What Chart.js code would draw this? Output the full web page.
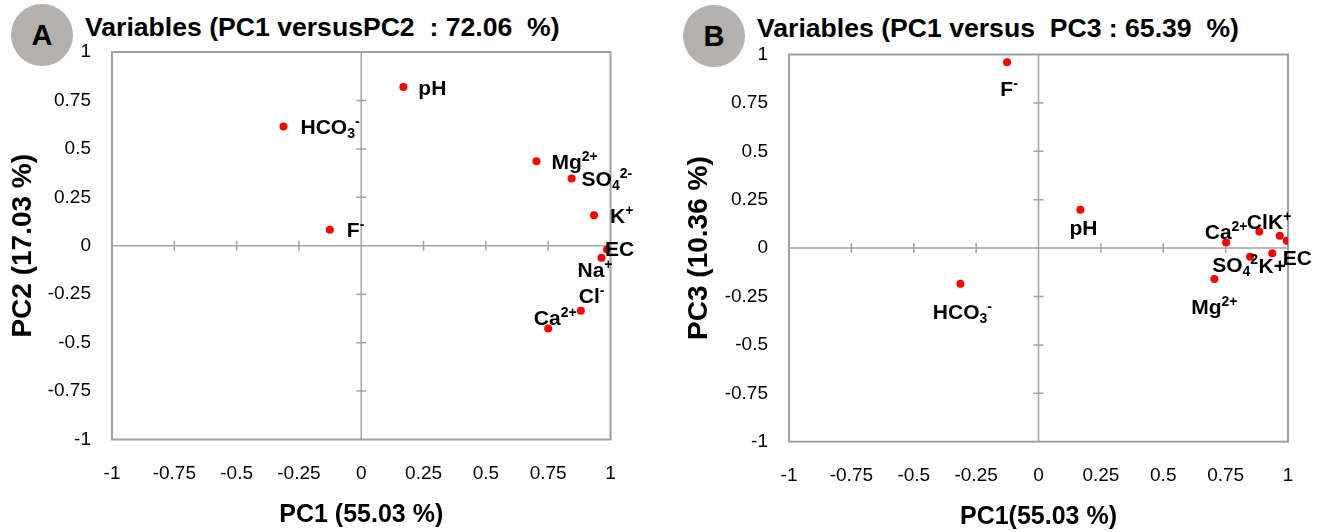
<!DOCTYPE html>
<html lang="en">
<head>
<meta charset="UTF-8">
<title>PCA variables</title>
<script src="https://cdn.jsdelivr.net/npm/chart.js"></script>
<style>
  body { margin: 0; background: #fff; width: 1317px; height: 532px; position: relative; overflow: hidden; }
  canvas { position: absolute; top: 0; }
  .badge { position: absolute; width: 62px; height: 62px; border-radius: 50%; background: #b3b0ad;
           font: bold 29px "Liberation Sans", Arial, sans-serif; color: #000; text-align: center; line-height: 62px; }
  .title { position: absolute; white-space: pre; font: bold 26.6px "Liberation Sans", Arial, sans-serif;
           line-height: 26px; color: #000; }
</style>
</head>
<body>
<div class="badge" style="left:11px; top:4px;">A</div>
<div class="title" style="left:85px; top:14px;">Variables (PC1 versusPC2  : 72.06  %)</div>
<div class="badge" style="left:683px; top:5px;">B</div>
<div class="title" style="left:757px; top:15px;">Variables (PC1 versus  PC3 : 65.39  %)</div>

<canvas id="chartA" width="660" height="532" style="left:0"></canvas>
<canvas id="chartB" width="657" height="532" style="left:660px"></canvas>

<script>
// ticks shared by both axes of both panels
const axisTicks = [-1, -0.75, -0.5, -0.25, 0, 0.25, 0.5, 0.75, 1];

// panel A : PC1 vs PC2
const labelsA = ['pH', 'HCO_3^-', 'F^-', 'Mg^{2+}', 'SO_4^{2-}', 'K^+', 'EC', 'Na^+', 'Cl^-', 'Ca^{2+}'];
const pc1A = [0.169, -0.312, -0.126, 0.703, 0.844, 0.934, 0.986, 0.964, 0.881, 0.750];
const pc2A = [0.820, 0.615, 0.082, 0.436, 0.347, 0.158, -0.019, -0.062, -0.336, -0.427];

// panel B : PC1 vs PC3
const labelsB = ['F^-', 'pH', 'HCO_3^-', 'Mg^{2+}', 'Ca^{2+}', 'Cl', 'K^+', 'EC', 'SO_4^2', 'K+'];
const pc1B = [-0.126, 0.168, -0.313, 0.705, 0.752, 0.885, 0.967, 0.995, 0.848, 0.937];
const pc3B = [0.960, 0.198, -0.184, -0.160, 0.029, 0.086, 0.064, 0.038, -0.045, -0.027];

// where each label sits relative to its point: [align, dx, dy]
const anchorsA = [
  ['left', 15, 1], ['left', 17, 0], ['left', 17, 0], ['left', 15, 0], ['left', 10, 0],
  ['left', 16, 0], ['left', -2, -1], ['right', 11, 12], ['left', -2, -15], ['center', 7, -11]
];
const anchorsB = [
  ['center', 2, 26], ['center', 3, 18], ['center', 2, 28], ['center', 0, 27], ['center', 0, -11],
  ['center', -2, -10], ['center', 0, -14], ['left', -4, 17], ['right', 8, 8], ['center', 0, 12]
];

const FONT = '"Liberation Sans", Arial, sans-serif';

function parseLabel(s) {
  const parts = [];
  let i = 0, buf = '';
  while (i < s.length) {
    const c = s[i];
    if (c === '_' || c === '^') {
      if (buf) { parts.push({ t: buf, k: 'n' }); buf = ''; }
      let txt;
      if (s[i + 1] === '{') {
        const j = s.indexOf('}', i);
        txt = s.slice(i + 2, j);
        i = j + 1;
      } else {
        txt = s[i + 1];
        i += 2;
      }
      parts.push({ t: txt, k: c === '_' ? 'sub' : 'sup' });
    } else {
      buf += c;
      i++;
    }
  }
  if (buf) parts.push({ t: buf, k: 'n' });
  return parts;
}

function drawRich(ctx, text, x, y, align) {
  const parts = parseLabel(text);
  const big = 'bold 21px ' + FONT, small = 'bold 14px ' + FONT;
  let total = 0;
  parts.forEach(p => {
    ctx.font = p.k === 'n' ? big : small;
    p.w = ctx.measureText(p.t).width;
    total += p.w;
  });
  let cx = align === 'left' ? x : align === 'right' ? x - total : x - total / 2;
  const base = y + 7.5;
  ctx.textAlign = 'left';
  ctx.textBaseline = 'alphabetic';
  parts.forEach(p => {
    ctx.font = p.k === 'n' ? big : small;
    const by = p.k === 'sup' ? base - 8 : p.k === 'sub' ? base + 4 : base;
    ctx.fillText(p.t, cx, by);
    cx += p.w;
  });
}

const framePlugin = {
  id: 'frame',
  beforeDatasetsDraw(chart) {
    const { ctx, chartArea: a, scales: { x, y } } = chart;
    const x0 = x.getPixelForValue(0), y0 = y.getPixelForValue(0);
    ctx.save();
    ctx.strokeStyle = '#a3a3a3';
    ctx.lineWidth = 1.5;
    ctx.beginPath();
    ctx.moveTo(x0, a.top); ctx.lineTo(x0, a.bottom);
    ctx.moveTo(a.left, y0); ctx.lineTo(a.right, y0);
    x.ticks.forEach(t => {
      if (t.value !== 0 && Math.abs(t.value) < 1) {
        const px = x.getPixelForValue(t.value);
        ctx.moveTo(px, y0 - 5); ctx.lineTo(px, y0 + 5);
      }
    });
    y.ticks.forEach(t => {
      if (t.value !== 0 && Math.abs(t.value) < 1) {
        const py = y.getPixelForValue(t.value);
        ctx.moveTo(x0 - 5, py); ctx.lineTo(x0 + 5, py);
      }
    });
    ctx.stroke();
    ctx.lineWidth = 2;
    ctx.strokeStyle = '#a0a0a0';
    ctx.strokeRect(a.left, a.top, a.width, a.height);
    ctx.restore();
  }
};

const labelPlugin = {
  id: 'pointLabels',
  afterDatasetsDraw(chart, args, opts) {
    const ctx = chart.ctx;
    const meta = chart.getDatasetMeta(0);
    ctx.save();
    ctx.fillStyle = '#000';
    meta.data.forEach((pt, i) => {
      const [align, dx, dy] = opts.anchors[i];
      drawRich(ctx, opts.names[i], pt.x + dx, pt.y + dy, align);
    });
    ctx.restore();
  }
};

function makeChart(id, xs, ys, names, anchors, xTitle, yTitle, g) {
  return new Chart(document.getElementById(id), {
    type: 'scatter',
    data: {
      datasets: [{
        data: xs.map((v, i) => ({ x: v, y: ys[i] })),
        backgroundColor: '#ff0000',
        borderWidth: 0,
        pointRadius: 4,
        pointHoverRadius: 4
      }]
    },
    options: {
      responsive: false,
      animation: false,
      events: [],
      layout: { padding: { left: 0, right: g.right, top: g.top, bottom: 0 } },
      plugins: {
        legend: { display: false },
        tooltip: { enabled: false },
        pointLabels: { names: names, anchors: anchors }
      },
      scales: {
        x: {
          type: 'linear', min: -1, max: 1,
          afterBuildTicks: s => { s.ticks = axisTicks.map(v => ({ value: v })); },
          afterFit: s => { s.height = g.xh; },
          grid: { display: false, drawTicks: false },
          border: { display: false },
          ticks: { padding: 23, color: '#000', font: { family: FONT, size: 19 }, callback: v => String(v) },
          title: { display: true, text: xTitle, color: '#000', font: { family: FONT, size: 25, weight: 'bold' },
                   padding: { top: 0, bottom: g.xtp } }
        },
        y: {
          type: 'linear', min: -1, max: 1,
          afterBuildTicks: s => { s.ticks = axisTicks.map(v => ({ value: v })); },
          afterFit: s => { s.width = g.yw; },
          grid: { display: false, drawTicks: false },
          border: { display: false },
          ticks: { padding: 21, color: '#000', font: { family: FONT, size: 19 }, callback: v => String(v) },
          title: { display: true, text: yTitle, color: '#000', font: { family: FONT, size: 28, weight: 'bold' },
                   padding: { top: g.ytp, bottom: 0 } }
        }
      }
    },
    plugins: [framePlugin, labelPlugin]
  });
}

makeChart('chartA', pc1A, pc2A, labelsA, anchorsA, 'PC1 (55.03 %)', 'PC2 (17.03 %)',
  { right: 49.5, top: 52, xh: 92.5, yw: 112, xtp: 2, ytp: 6 });
makeChart('chartB', pc1B, pc3B, labelsB, anchorsB, 'PC1(55.03 %)', 'PC3 (10.36 %)',
  { right: 29, top: 54.5, xh: 90.3, yw: 129, xtp: 0, ytp: 22 });
</script>
</body>
</html>
